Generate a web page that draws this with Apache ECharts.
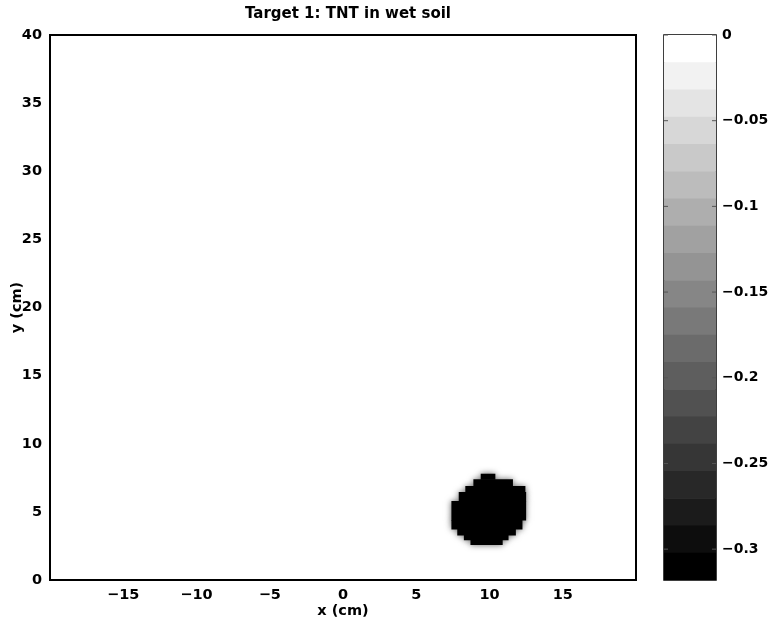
<!DOCTYPE html>
<html>
<head>
<meta charset="utf-8">
<script src="https://cdn.jsdelivr.net/npm/echarts@6/dist/echarts.min.js"></script>
<style>html,body{margin:0;padding:0;background:#fff;}#c{width:768px;height:623px;}</style>
</head>
<body>
<div id="c"></div>
<script>
// ---- data ----
const titleText = 'Target 1: TNT in wet soil';
const xName = 'x (cm)';
const yName = 'y (cm)';
const xRange = [-20, 20];
const yRange = [0, 40];
const xTicks = [-15, -10, -5, 0, 5, 10, 15];
const yTicks = [0, 5, 10, 15, 20, 25, 30, 35, 40];
const cbTicks = [0, -0.05, -0.1, -0.15, -0.2, -0.25, -0.3];
const cbEdges = [0, -0.0159, -0.0318, -0.0477, -0.0636, -0.0795, -0.0954, -0.1113, -0.1272, -0.1431,
  -0.159, -0.1749, -0.1908, -0.2067, -0.2226, -0.2385, -0.2544, -0.2703, -0.2862, -0.3021, -0.318];
const cbGrays = [255, 242, 228, 215, 201, 188, 174, 161, 148, 134, 121, 107, 94, 81, 67, 54, 40, 27, 13, 0];
// blob strips: [yLow, yHigh, xLeft, xRight] in cm
const blobStrips = [
  [7.4, 7.8, 9.4, 10.4],
  [6.9, 7.4, 8.9, 11.6],
  [6.45, 6.9, 8.35, 12.45],
  [5.8, 6.45, 7.9, 12.5],
  [4.4, 5.8, 7.4, 12.5],
  [3.75, 4.4, 7.4, 12.25],
  [3.3, 3.75, 7.8, 11.8],
  [2.95, 3.3, 8.25, 11.3],
  [2.6, 2.95, 8.7, 10.9]
];
const blobValue = -0.318;

// ---- helpers ----
const FONT = 'DejaVu Sans';
const fmt = v => String(v).replace('-', '\u2212');
function grayFor(v) {
  for (let i = 0; i < cbGrays.length; i++) {
    if (v >= cbEdges[i + 1] - 1e-9) { const g = cbGrays[i]; return 'rgb(' + g + ',' + g + ',' + g + ')'; }
  }
  const g = cbGrays[cbGrays.length - 1];
  return 'rgb(' + g + ',' + g + ',' + g + ')';
}
const cbData = cbGrays.map((g, i) => [cbEdges[i + 1], cbEdges[i], g]);
const blobData = blobStrips.map(s => [s[2], s[3], s[0], s[1], blobValue]);
const cbTickData = cbTicks.map(v => [0, v]);

const lab = { color: '#000', fontFamily: FONT, fontWeight: 'bold', fontSize: 14.5 };
const cbLab = { color: '#000', fontFamily: FONT, fontWeight: 'bold', fontSize: 14 };

const chart = echarts.init(document.getElementById('c'), null, { renderer: 'canvas' });
chart.setOption({
  animation: false,
  backgroundColor: '#fff',
  title: {
    text: titleText, left: 343, top: 2, textAlign: 'center',
    textStyle: { color: '#000', fontFamily: FONT, fontWeight: 'bold', fontSize: 15 }
  },
  grid: [
    { left: 50, top: 35, width: 586, height: 545, show: true, borderColor: '#000', borderWidth: 2, backgroundColor: '#fff', outerBoundsMode: 'none', containLabel: false },
    { left: 664, top: 35, width: 52, height: 545, show: true, borderColor: '#000', borderWidth: 1.5, backgroundColor: 'transparent', outerBoundsMode: 'none', containLabel: false }
  ],
  xAxis: [
    {
      gridIndex: 0, type: 'value', min: xRange[0], max: xRange[1],
      name: xName, nameLocation: 'middle', nameGap: 24, nameMoveOverlap: false, nameTextStyle: lab,
      axisLine: { show: false }, axisTick: { show: false }, splitLine: { show: false },
      axisLabel: Object.assign({ customValues: xTicks, formatter: fmt, margin: 8 }, lab)
    },
    {
      gridIndex: 1, type: 'value', min: 0, max: 1, show: false
    }
  ],
  yAxis: [
    {
      gridIndex: 0, type: 'value', min: yRange[0], max: yRange[1],
      name: yName, nameLocation: 'middle', nameGap: 25, nameMoveOverlap: false, nameTextStyle: lab,
      axisLine: { show: false }, axisTick: { show: false }, splitLine: { show: false },
      axisLabel: Object.assign({ customValues: yTicks, formatter: fmt, margin: 8 }, lab)
    },
    {
      gridIndex: 1, type: 'value', min: cbEdges[cbEdges.length - 1], max: 0, position: 'right',
      axisLine: { show: false }, splitLine: { show: false }, axisTick: { show: false },
      axisLabel: Object.assign({ customValues: cbTicks, formatter: fmt, margin: 6 }, cbLab)
    }
  ],
  series: [
    {
      type: 'custom', xAxisIndex: 0, yAxisIndex: 0, data: blobData,
      encode: { x: [0, 1], y: [2, 3] }, clip: true,
      renderItem: function (params, api) {
        const p0 = api.coord([api.value(0), api.value(3)]);
        const p1 = api.coord([api.value(1), api.value(2)]);
        const c = grayFor(api.value(4));
        return {
          type: 'rect',
          shape: { x: p0[0], y: p0[1], width: p1[0] - p0[0], height: p1[1] - p0[1] + 0.5 },
          style: { fill: c, shadowBlur: 6, shadowColor: 'rgba(0,0,0,0.6)' }
        };
      }
    },
    {
      type: 'custom', xAxisIndex: 1, yAxisIndex: 1, data: cbData,
      encode: { y: [0, 1] }, clip: true, z: 1,
      renderItem: function (params, api) {
        const p0 = api.coord([0, api.value(1)]);
        const p1 = api.coord([1, api.value(0)]);
        const g = api.value(2);
        return {
          type: 'rect',
          shape: { x: p0[0], y: p0[1], width: p1[0] - p0[0], height: p1[1] - p0[1] + 0.5 },
          style: { fill: 'rgb(' + g + ',' + g + ',' + g + ')' }
        };
      }
    },
    {
      type: 'custom', xAxisIndex: 1, yAxisIndex: 1, data: cbTickData, z: 3,
      encode: { x: 0, y: 1 }, clip: false,
      renderItem: function (params, api) {
        const pl = api.coord([0, api.value(1)]);
        const pr = api.coord([1, api.value(1)]);
        const st = { stroke: '#555', lineWidth: 1 };
        return {
          type: 'group',
          children: [
            { type: 'line', shape: { x1: pl[0], y1: pl[1], x2: pl[0] + 4, y2: pl[1] }, style: st },
            { type: 'line', shape: { x1: pr[0] - 4, y1: pr[1], x2: pr[0], y2: pr[1] }, style: st }
          ]
        };
      }
    }
  ]
});
</script>
</body>
</html>
